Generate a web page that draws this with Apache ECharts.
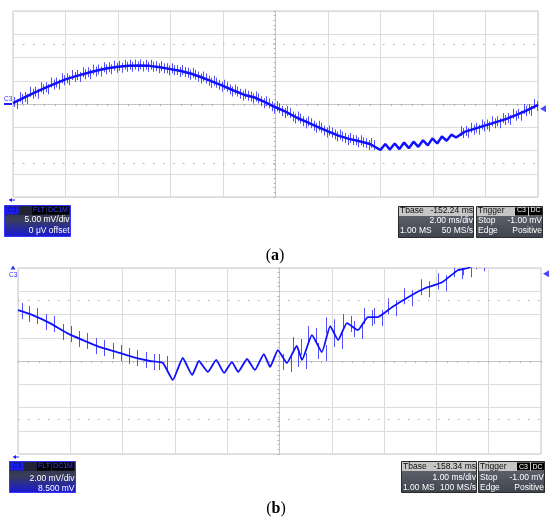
<!DOCTYPE html>
<html><head><meta charset="utf-8">
<script src="https://cdn.jsdelivr.net/npm/echarts@6/dist/echarts.min.js"></script>
<style>html,body{margin:0;padding:0;background:#fff}#c{width:550px;height:522px}</style>
</head><body><div id="c"></div>
<script>
// ---------- Panel (a): 2.00 ms/div, 5.00 mV/div, 0 µV offset ----------
// time relative to screen centre (ms)
const timeA = [-10,-9.6,-9.2,-8.8,-8.4,-8.0,-7.6,-7.2,-6.8,-6.4,-6.0,-5.6,-5.2,-4.8,-4.4,-4.0,-3.6,-3.2,-2.8,-2.4,-2.0,-1.6,-1.2,-0.8,-0.4,0,0.4,0.8,1.2,1.6,2.0,2.4,2.8,3.2,3.6,
  4.00,4.18,4.36,4.54,4.72,4.90,5.08,5.26,5.44,5.62,5.80,5.98,6.16,6.34,6.52,6.70,6.88,
  7.2,7.6,8.0,8.4,8.8,9.2,9.6,10.0];
// measured voltage (mV)
const voltA = [0.2,1.3,2.4,3.4,4.4,5.3,6.0,6.6,7.2,7.7,8.0,8.2,8.3,8.2,7.9,7.5,7.1,6.5,5.7,4.8,3.9,2.9,2.0,1.4,0.4,-0.7,-1.7,-2.9,-3.9,-4.9,-5.9,-6.8,-7.5,-8.0,-8.6,
  -9.9,-8.6,-9.8,-8.5,-9.7,-8.3,-9.5,-8.1,-9.2,-7.8,-8.9,-7.4,-8.5,-7.0,-7.9,-6.6,-7.2,
  -6.0,-5.3,-4.6,-3.9,-3.2,-2.3,-1.3,-0.2];
const rippleA = [3.9, 6.95];          // window where the ripple replaces the switching spikes
const dottedA = [12.8, -12.8];        // dotted reference lines (mV)
const trigLevelA = -1.0;              // trigger level (mV)

// ---------- Panel (b): 1.00 ms/div, 2.00 mV/div, 8.500 mV offset ----------
const timeB = [-5.00,-4.72,-4.39,-4.06,-3.76,-3.43,-3.11,-2.80,-2.48,-2.23,
  -2.04,-1.85,-1.67,-1.54,-1.37,-1.21,-1.06,-0.91,-0.79,-0.62,-0.47,-0.30,-0.18,-0.03,0.14,0.33,0.43,
  0.62,0.81,0.97,1.12,1.29,1.50,1.69,1.88,2.15,2.46,2.78,3.11,3.41,3.59,3.83,4.20];
const voltB = [-4.12,-4.55,-5.24,-6.10,-6.70,-7.30,-7.73,-8.16,-8.50,-8.67,
  -10.13,-8.24,-9.70,-8.50,-9.44,-8.41,-9.53,-8.59,-9.44,-8.33,-9.27,-7.90,-9.01,-7.56,-8.67,-7.21,-8.41,
  -6.27,-7.73,-5.50,-6.70,-5.24,-5.84,-4.72,-4.72,-3.87,-3.01,-2.24,-1.72,-0.69,-0.52,-0.01,0.60];
const offsetB = 8.5;                  // channel offset (mV)
const rippleB = [-2.15, 0.0];
const dottedB = [5.2, -5.0];          // screen mV
const trigLevelB = -1.0;

// ---------- Info box texts ----------
const chanA = ['5.00 mV/div', '0 \u03bcV offset'];
const tbaseA = ['-152.24 ms', '2.00 ms/div', '1.00 MS', '50 MS/s'];
const chanB = ['2.00 mV/div', '8.500 mV'];
const tbaseB = ['-158.34 ms', '1.00 ms/div', '1.00 MS', '100 MS/s'];
const trig = ['Stop', '-1.00 mV', 'Edge', 'Positive'];

// ---------- build ----------
const chart = echarts.init(document.getElementById('c'), null, {renderer: 'canvas'});
const BLUE = '#1010ff', SPIKE = '#5050ff';
const FONT = '"Liberation Sans", Arial, sans-serif';

function xAx(g, min, max, iv) {
  return {type: 'value', gridIndex: g, min, max, interval: iv,
    axisLabel: {show: false},
    axisLine: {show: true, onZero: true, lineStyle: {color: '#c4c4c4', width: 1}},
    axisTick: {show: true, length: 2, lineStyle: {color: '#b4b4b4'}},
    minorTick: {show: true, splitNumber: 5, length: 2, lineStyle: {color: '#b4b4b4'}},
    splitLine: {show: true, lineStyle: {color: '#dcdcdc', width: 1}}};
}
const yAx = xAx;

const ptsA = timeA.map((t, i) => [t, voltA[i]]);
const ptsB = timeB.map((t, i) => [t, voltB[i] + offsetB]);
const spikesA = ptsA.filter(p => p[0] < rippleA[0] || p[0] > rippleA[1]);
const spikesB = ptsB.filter(p => p[0] < rippleB[0] || p[0] > rippleB[1]);

// spike glyph drawn around each sample: [dx, up, down] in pixels (style only)
const glyphA = [[-3.9, 6, 4], [-1.3, 4, 6], [1.3, 6, 4], [3.9, 4, 6]];
const glyphB = [[-4, 9, 7], [4, 7, 9]];
function spikeSeries(ax, data, glyph) {
  return {type: 'custom', xAxisIndex: ax, yAxisIndex: ax, data, silent: true, z: 2, clip: true,
    renderItem: (params, api) => {
      const p = api.coord([api.value(0), api.value(1)]);
      const kids = [];
      for (let k = 0; k < glyph.length; k++) {
        const g = glyph[k];
        const x = Math.round(p[0] + g[0]);
        kids.push({type: 'rect', shape: {x: x, y: p[1] - g[1], width: 1, height: g[1] + g[2]},
          style: {fill: SPIKE}});
      }
      return {type: 'group', children: kids};
    }};
}

function dotted(vals) {
  return {silent: true, symbol: 'none', label: {show: false},
    lineStyle: {type: [1.5, 8.5], color: '#b0b0b0', width: 1},
    data: vals.map(v => ({yAxis: v}))};
}

function T(x, y, text, fill, align, size, z) {
  return {type: 'text', x, y, silent: true, z: z || 101,
    style: {text, fill, font: (size || 8.5) + 'px ' + FONT, align: align || 'left', verticalAlign: 'middle'}};
}
function R(x, y, w, h, fill, stroke, z) {
  return {type: 'rect', silent: true, z: z || 100, shape: {x, y, width: w, height: h},
    style: {fill, stroke: stroke || null, lineWidth: stroke ? 1 : 0}};
}
const gradLeft = () => new echarts.graphic.LinearGradient(0, 0, 0, 1, [
  {offset: 0, color: '#2a2e45'}, {offset: 0.45, color: '#3a3e58'}, {offset: 1, color: '#1818d8'}]);
const gradDark = () => new echarts.graphic.LinearGradient(0, 0, 0, 1, [
  {offset: 0, color: '#676b75'}, {offset: 1, color: '#40444e'}]);

function leftBox(x, y, r, txt) {
  return [
    R(x + 0.5, y + 0.5, 66, 31, gradLeft(), '#3535ff', 98),
    R(x + 1, y + 1, 65, 9, '#202436', null, 99),
    R(x + 1.5, y + 1.5, 13, 8, '#1c1cf0', null, 100), T(x + 8, r[0], 'C3', '#0a0a8a', 'center', 7),
    R(x + 28, y + 1.5, 14, 8, '#000', null, 100), T(x + 35, r[0], 'FLT', '#4040ff', 'center', 7),
    R(x + 43, y + 1.5, 22, 8, '#000', null, 100), T(x + 54, r[0], 'DC1M', '#4040ff', 'center', 7),
    T(x + 65.5, r[1], txt[0], '#fff', 'right'),
    T(x + 65.5, r[2], txt[1], '#fff', 'right')
  ];
}
function tbaseBox(x, y, r, txt) {
  return [
    R(x + 0.5, y + 0.5, 75, 31, gradDark(), '#2b2b2b', 98),
    R(x + 1, y + 1, 74, 9, '#c6c6c6', null, 99),
    T(x + 2, r[0], 'Tbase', '#111'), T(x + 75, r[0], txt[0], '#111', 'right'),
    T(x + 75, r[1], txt[1], '#fff', 'right'),
    T(x + 2, r[2], txt[2], '#fff'), T(x + 75, r[2], txt[3], '#fff', 'right')
  ];
}
function trigBox(x, y, r) {
  return [
    R(x + 0.5, y + 0.5, 66, 31, gradDark(), '#2b2b2b', 98),
    R(x + 1, y + 1, 65, 9, '#c6c6c6', null, 99),
    T(x + 2, r[0], 'Trigger', '#111'),
    R(x + 39, y + 1.5, 13, 8, '#000', null, 100), T(x + 45.5, r[0], 'C3', '#fff', 'center', 7),
    R(x + 53, y + 1.5, 13, 8, '#000', null, 100), T(x + 59.5, r[0], 'DC', '#fff', 'center', 7),
    T(x + 2, r[1], trig[0], '#fff'), T(x + 66, r[1], trig[1], '#fff', 'right'),
    T(x + 2, r[2], trig[2], '#fff'), T(x + 66, r[2], trig[3], '#fff', 'right')
  ];
}
function caption(x, y, letter) {
  return {type: 'text', x, y, silent: true, z: 101,
    style: {text: '{p|(}{b|' + letter + '}{p|)}', align: 'center', verticalAlign: 'middle',
      rich: {p: {fontFamily: 'Liberation Serif', fontSize: 16, fill: '#000'},
             b: {fontFamily: 'Liberation Serif', fontSize: 16, fontWeight: 'bold', fill: '#000'}}}};
}

const graphics = [].concat(
  leftBox(4, 205, [210.5, 219.5, 230.5], chanA),
  tbaseBox(398, 206, [210.5, 220.7, 230.7], tbaseA),
  trigBox(476, 206, [210.5, 220.7, 230.7]),
  leftBox(9, 461, [466.5, 478.3, 488.3], chanB),
  tbaseBox(401, 461, [466.7, 477.3, 487.3], tbaseB),
  trigBox(478, 461, [466.7, 477.3, 487.3]),
  [
    caption(275, 256, 'a'), caption(276, 509, 'b'),
    T(4, 99.5, 'C3', '#2a2aff', 'left', 6.5),
    {type: 'line', silent: true, shape: {x1: 4, y1: 104, x2: 12, y2: 104}, style: {stroke: '#2020ff', lineWidth: 2}},
    {type: 'polygon', silent: true, shape: {points: [[13, 265.5], [10.5, 269.5], [15.5, 269.5]]}, style: {fill: '#3030ff'}},
    T(9, 275, 'C3', '#2a2aff', 'left', 6.5),
    {type: 'polygon', silent: true, shape: {points: [[8.5, 200], [12, 198], [12, 202]]}, style: {fill: '#2020ff'}},
    {type: 'line', silent: true, shape: {x1: 11, y1: 200, x2: 15, y2: 200}, style: {stroke: '#2020ff', lineWidth: 1}},
    {type: 'polygon', silent: true, shape: {points: [[12.5, 457], [16, 455], [16, 459]]}, style: {fill: '#2020ff'}},
    {type: 'line', silent: true, shape: {x1: 15, y1: 457, x2: 19, y2: 457}, style: {stroke: '#2020ff', lineWidth: 1}}
  ]
);

const trigSeries = (ax, x, y) => ({type: 'scatter', xAxisIndex: ax, yAxisIndex: ax, clip: false, silent: true,
  data: [[x, y]], symbol: 'triangle', symbolRotate: 90, symbolSize: [7, 6], symbolOffset: [5, 0],
  itemStyle: {color: '#1a1aff'}, z: 5});

chart.setOption({
  animation: false,
  backgroundColor: '#fff',
  grid: [
    {left: 13, top: 11, width: 525, height: 186, show: true, borderColor: '#c8c8c8', borderWidth: 1, backgroundColor: '#fff'},
    {left: 18, top: 268, width: 523, height: 186, show: true, borderColor: '#c8c8c8', borderWidth: 1, backgroundColor: '#fff'}
  ],
  xAxis: [xAx(0, -10, 10, 2), xAx(1, -5, 5, 1)],
  yAxis: [yAx(0, -20, 20, 5), yAx(1, -8, 8, 2)],
  series: [
    spikeSeries(0, spikesA, glyphA),
    {type: 'line', xAxisIndex: 0, yAxisIndex: 0, data: ptsA, showSymbol: false, silent: true, z: 3,
      lineStyle: {color: BLUE, width: 2.5}, markLine: dotted(dottedA)},
    trigSeries(0, 10, trigLevelA),
    spikeSeries(1, spikesB, glyphB),
    {type: 'line', xAxisIndex: 1, yAxisIndex: 1, data: ptsB, showSymbol: false, silent: true, z: 3,
      smooth: 0.15, lineStyle: {color: BLUE, width: 1.8}, markLine: dotted(dottedB)},
    trigSeries(1, 5, trigLevelB + offsetB)
  ],
  graphic: {elements: graphics}
});
</script>
</body></html>
